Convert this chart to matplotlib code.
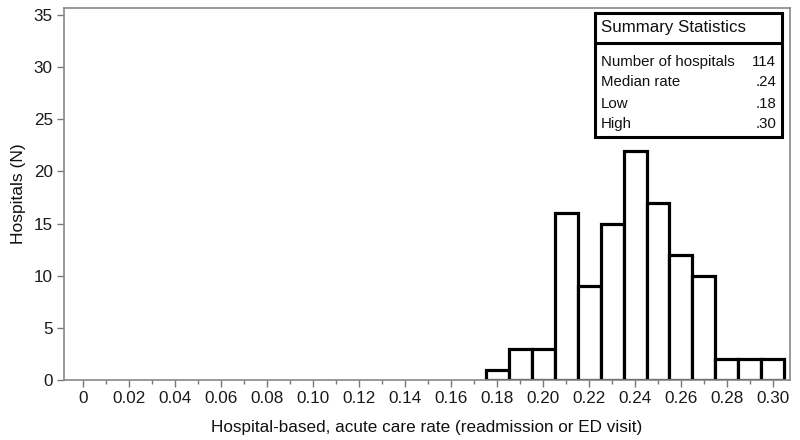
import numpy as np
import matplotlib.pyplot as plt
import matplotlib.patches as patches

plt.rcParams['font.family'] = ['Liberation Sans', 'DejaVu Sans']

# 直方图数据（组中心与医院数）
bin_centers = [0.18, 0.19, 0.20, 0.21, 0.22, 0.23, 0.24, 0.25, 0.26, 0.27, 0.28, 0.29, 0.30]
counts = [1, 3, 3, 16, 9, 15, 22, 17, 12, 10, 2, 2, 2]
bin_width = 0.01

stat_labels = ["Number of hospitals", "Median rate", "Low", "High"]
stat_values = ["114", ".24", ".18", ".30"]

fig = plt.figure(figsize=(8, 4.4), dpi=100)
ax = fig.add_axes([0.08, 0.1364, 0.9075, 0.8455])

ax.bar(bin_centers, counts, width=bin_width, color='white', edgecolor='black', linewidth=2.3)

ax.set_xlim(-0.0083, 0.3074)
ax.set_ylim(0, 35.67)
ax.set_xticks(np.arange(0, 0.301, 0.02))
ax.set_xticklabels(["0"] + [f"{v:.2f}" for v in np.arange(0.02, 0.301, 0.02)])
ax.set_xticks(np.arange(0.01, 0.30, 0.02), minor=True)
ax.set_yticks(np.arange(0, 36, 5))

for s in ax.spines.values():
    s.set_color('#888888')
    s.set_linewidth(1.2)
ax.tick_params(axis='both', which='major', direction='out', length=5, width=1, color='#777777',
               labelsize=12.3, labelcolor='#1a1a1a', pad=3)
ax.tick_params(axis='x', which='minor', direction='out', length=3, width=1, color='#777777')

ax.set_xlabel("Hospital-based, acute care rate (readmission or ED visit)", fontsize=12.3,
              labelpad=10, color='#111111')
ax.set_ylabel("Hospitals (N)", fontsize=12.5, labelpad=6, color='#111111')

# 汇总统计表
x0, x1 = 0.731, 0.989
y0, y1 = 0.653, 0.987
yh = 0.906
ax.add_patch(patches.Rectangle((x0, y0), x1 - x0, y1 - y0, transform=ax.transAxes,
                               facecolor='white', edgecolor='black', linewidth=2.2, zorder=5))
ax.plot([x0, x1], [yh, yh], transform=ax.transAxes, color='black', linewidth=2.2, zorder=6)
ax.text(x0 + 0.009, (y1 + yh) / 2, "Summary Statistics", transform=ax.transAxes,
        fontsize=12.2, va='center', ha='left', zorder=7, color='#111111')
row_y = [0.854, 0.800, 0.741, 0.688]
for lab, val, yy in zip(stat_labels, stat_values, row_y):
    ax.text(x0 + 0.009, yy, lab, transform=ax.transAxes, fontsize=10.8, va='center', ha='left',
            zorder=7, color='#111111')
    ax.text(x1 - 0.008, yy, val, transform=ax.transAxes, fontsize=10.8, va='center', ha='right',
            zorder=7, color='#111111')

fig.savefig("out.png", dpi=100)
